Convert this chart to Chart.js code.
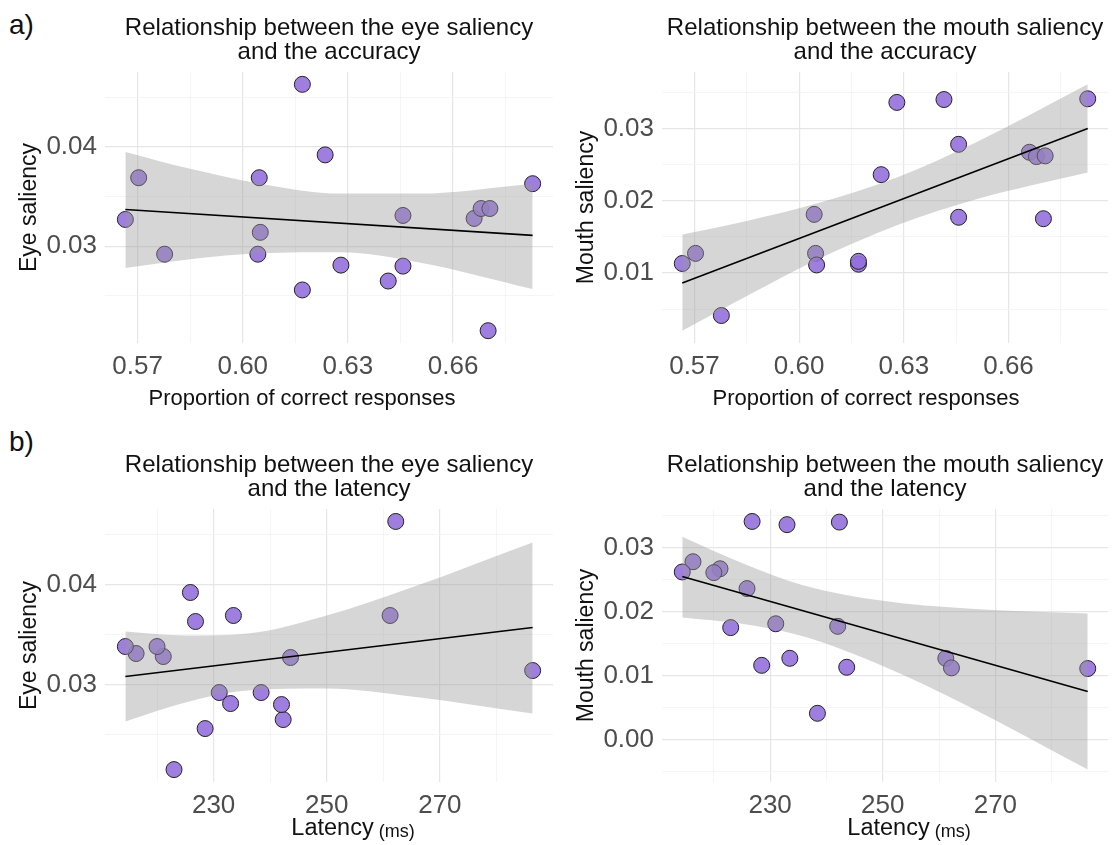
<!DOCTYPE html>
<html lang="en">
<head>
<meta charset="UTF-8" />
<title>Eye and mouth saliency vs accuracy and latency</title>
<script src="https://cdn.jsdelivr.net/npm/chart.js"></script>
<style>
  body { margin: 0; background: #fff; }
  #fig { position: relative; width: 1117px; height: 845px; overflow: hidden; font-family: "Liberation Sans", Arial, sans-serif; }
  #fig canvas { position: absolute; }
  .tag { position: absolute; left: 9px; font-size: 28px; line-height: 1; color: #111; }
</style>
</head>
<body>
<div id="fig">
  <div class="tag" style="top:11px">a)</div>
  <div class="tag" style="top:428px">b)</div>
  <canvas id="eyeAcc" width="562" height="420" style="left:0;top:0"></canvas>
  <canvas id="mouthAcc" width="560" height="420" style="left:557px;top:0"></canvas>
  <canvas id="eyeLat" width="562" height="408" style="left:0;top:437px"></canvas>
  <canvas id="mouthLat" width="560" height="408" style="left:557px;top:437px"></canvas>
</div>

<script>
  // one value per participant (n = 18)
  const accuracy = [0.5665, 0.5703, 0.5777, 0.6043, 0.6047, 0.6050, 0.6170, 0.6170, 0.6235,
                    0.6280, 0.6415, 0.6457, 0.6457, 0.6660, 0.6680, 0.6705, 0.6700, 0.6827];
  const latency = [243.6, 233.5, 238.4, 231.0, 261.2, 286.4, 262.2, 228.5, 225.9,
                   233.0, 242.3, 216.3, 242.0, 221.1, 220.0, 214.4, 223.0, 226.8];
  const eyeSaliency = [0.0327, 0.0369, 0.0292, 0.0292, 0.0369, 0.0314, 0.0463, 0.0256, 0.0392,
                       0.0281, 0.0265, 0.0331, 0.0280, 0.0328, 0.0338, 0.0338, 0.0215, 0.0363];
  const mouthSaliency = [0.0113, 0.0127, 0.0041, 0.0181, 0.0127, 0.0111, 0.0112, 0.0116, 0.0236,
                         0.0336, 0.0340, 0.0278, 0.0177, 0.0267, 0.0261, 0.0262, 0.0175, 0.0341];

  // linear fits (ends) and 95% bands, read at a few x positions
  const accFitX = [0.5665, 0.6827];
  const accBandX = [0.5665, 0.585, 0.605, 0.628, 0.65, 0.6827];
  const latFitX = [214.4, 286.4];
  const latBandX = [214.4, 225, 236, 250, 265, 286.4];

  const eyeAccFit = [0.0337, 0.0311];
  const eyeAccUpper = [0.0395, 0.0378, 0.0363, 0.0353, 0.0353, 0.0363];
  const eyeAccLower = [0.0278, 0.0287, 0.0293, 0.0294, 0.0284, 0.0257];

  const mouthAccFit = [0.0086, 0.0300];
  const mouthAccUpper = [0.0153, 0.0172, 0.0196, 0.0232, 0.0279, 0.0361];
  const mouthAccLower = [0.0020, 0.0068, 0.0118, 0.0166, 0.0201, 0.0239];

  const eyeLatFit = [0.0308, 0.0357];
  const eyeLatUpper = [0.0353, 0.0349, 0.0351, 0.0369, 0.0397, 0.0442];
  const eyeLatLower = [0.0263, 0.0282, 0.0294, 0.0296, 0.0288, 0.0271];

  const mouthLatFit = [0.0255, 0.0075];
  const mouthLatUpper = [0.0317, 0.0276, 0.0241, 0.0217, 0.0205, 0.0197];
  const mouthLatLower = [0.0191, 0.0181, 0.0161, 0.0115, 0.0053, -0.0047];

  // tick labels
  const accTicks = [0.57, 0.60, 0.63, 0.66];
  const latTicks = [230, 250, 270];
  const eyeTicks = [0.03, 0.04];
  const mouthAccTicks = [0.01, 0.02, 0.03];
  const mouthLatTicks = [0.00, 0.01, 0.02, 0.03];

  const FONT = '"Liberation Sans", Arial, sans-serif';

  // ggplot-style 5% expansion
  function expand(vals) {
    const lo = Math.min(...vals), hi = Math.max(...vals);
    const pad = (hi - lo) * 0.05;
    return [lo - pad, hi + pad];
  }

  // majors plus minor lines half way between them
  function gridValues(major, range) {
    const half = (major[1] - major[0]) / 2;
    const all = [];
    major.forEach(v => all.push(v - half, v));
    all.push(major[major.length - 1] + half);
    return all.filter(v => v >= range[0] && v <= range[1]);
  }

  const isMajor = (list, v) => list.some(t => Math.abs(t - v) < 1e-9);

  const pairs = (xs, ys) => xs.map((x, i) => ({x: x, y: ys[i]}));

  // draws the x axis title (with an optional smaller unit)
  const xTitlePlugin = {
    id: 'xTitle',
    afterDraw(chart, args, o) {
      const {ctx, chartArea} = chart;
      const cx = (chartArea.left + chartArea.right) / 2 + o.shift;
      ctx.save();
      ctx.fillStyle = '#111';
      ctx.textAlign = 'left';
      ctx.textBaseline = 'alphabetic';
      ctx.font = o.size + 'px ' + FONT;
      const w1 = ctx.measureText(o.text).width;
      let w2 = 0;
      if (o.unit) {
        ctx.font = o.unitSize + 'px ' + FONT;
        w2 = ctx.measureText(' ' + o.unit).width;
      }
      const x0 = cx - (w1 + w2) / 2;
      ctx.font = o.size + 'px ' + FONT;
      ctx.fillText(o.text, x0, o.baseline);
      if (o.unit) {
        ctx.font = o.unitSize + 'px ' + FONT;
        ctx.fillText(' ' + o.unit, x0 + w1, o.baseline + 2);
      }
      ctx.restore();
    }
  };

  function axis(ticks, range, fmt, extra) {
    return Object.assign({
      type: 'linear',
      min: range[0],
      max: range[1],
      afterBuildTicks: s => { s.ticks = gridValues(ticks, range).map(v => ({value: v})); },
      grid: {
        drawTicks: false,
        color: c => isMajor(ticks, c.tick.value) ? '#e6e6e6' : '#f3f3f3',
        lineWidth: c => isMajor(ticks, c.tick.value) ? 1.2 : 0.8
      },
      border: { display: false },
      ticks: {
        autoSkip: false,
        maxRotation: 0,
        padding: 8,
        color: '#4d4d4d',
        font: { family: FONT, size: 26 },
        callback: v => isMajor(ticks, v) ? fmt(v) : ''
      }
    }, extra);
  }

  function panel(id, p) {
    const xr = expand(p.x);
    const yr = expand(p.y.concat(p.upper, p.lower));
    new Chart(document.getElementById(id), {
      type: 'scatter',
      data: {
        datasets: [
          {
            data: pairs(p.x, p.y),
            backgroundColor: 'rgba(147,112,219,0.9)',
            borderColor: '#222',
            borderWidth: 1,
            pointRadius: 8,
            pointHoverRadius: 8,
            order: 3
          },
          {
            data: pairs(p.bandX, p.upper),
            showLine: true,
            fill: '+1',
            backgroundColor: 'rgba(153,153,153,0.4)',
            borderWidth: 0,
            pointRadius: 0,
            cubicInterpolationMode: 'monotone',
            order: 2
          },
          {
            data: pairs(p.bandX, p.lower),
            showLine: true,
            fill: false,
            borderWidth: 0,
            pointRadius: 0,
            cubicInterpolationMode: 'monotone',
            order: 2
          },
          {
            data: pairs(p.fitX, p.fit),
            showLine: true,
            borderColor: '#000',
            borderWidth: 1.6,
            pointRadius: 0,
            order: 1
          }
        ]
      },
      options: {
        responsive: false,
        animation: false,
        events: [],
        layout: { padding: { left: 0, right: p.padRight, top: 0, bottom: p.padBottom } },
        plugins: {
          legend: { display: false },
          tooltip: { enabled: false },
          title: {
            display: true,
            text: p.title,
            fullSize: false,
            color: '#111',
            font: { family: FONT, size: 24, weight: 'normal', lineHeight: 0.98 },
            padding: { top: 17, bottom: 8 }
          },
          xTitle: p.xTitle
        },
        scales: {
          x: axis(p.xTicks, xr, p.xFmt, { afterFit: s => { s.height = 40; } }),
          y: axis(p.yTicks, yr, v => v.toFixed(2), {
            afterFit: s => { s.width = 105; },
            title: {
              display: true,
              text: p.yTitle,
              color: '#111',
              font: { family: FONT, size: 23 },
              padding: { top: 16, bottom: 0 }
            }
          })
        }
      },
      plugins: [xTitlePlugin]
    });
  }

  const fmtAcc = v => v.toFixed(2);
  const fmtLat = v => v.toFixed(0);

  panel('eyeAcc', {
    x: accuracy, y: eyeSaliency, fitX: accFitX, fit: eyeAccFit,
    bandX: accBandX, upper: eyeAccUpper, lower: eyeAccLower,
    xTicks: accTicks, yTicks: eyeTicks, xFmt: fmtAcc,
    title: ['Relationship between the eye saliency', 'and the accuracy'],
    yTitle: 'Eye saliency',
    xTitle: { text: 'Proportion of correct responses', size: 22, baseline: 405, shift: -27 },
    padRight: 1, padBottom: 37
  });

  panel('mouthAcc', {
    x: accuracy, y: mouthSaliency, fitX: accFitX, fit: mouthAccFit,
    bandX: accBandX, upper: mouthAccUpper, lower: mouthAccLower,
    xTicks: accTicks, yTicks: mouthAccTicks, xFmt: fmtAcc,
    title: ['Relationship between the mouth saliency', 'and the accuracy'],
    yTitle: 'Mouth saliency',
    xTitle: { text: 'Proportion of correct responses', size: 22, baseline: 405, shift: -19 },
    padRight: 0, padBottom: 37
  });

  panel('eyeLat', {
    x: latency, y: eyeSaliency, fitX: latFitX, fit: eyeLatFit,
    bandX: latBandX, upper: eyeLatUpper, lower: eyeLatLower,
    xTicks: latTicks, yTicks: eyeTicks, xFmt: fmtLat,
    title: ['Relationship between the eye saliency', 'and the latency'],
    yTitle: 'Eye saliency',
    xTitle: { text: 'Latency', unit: '(ms)', size: 23.5, unitSize: 18, baseline: 398, shift: 24 },
    padRight: 1, padBottom: 23
  });

  panel('mouthLat', {
    x: latency, y: mouthSaliency, fitX: latFitX, fit: mouthLatFit,
    bandX: latBandX, upper: mouthLatUpper, lower: mouthLatLower,
    xTicks: latTicks, yTicks: mouthLatTicks, xFmt: fmtLat,
    title: ['Relationship between the mouth saliency', 'and the latency'],
    yTitle: 'Mouth saliency',
    xTitle: { text: 'Latency', unit: '(ms)', size: 23.5, unitSize: 18, baseline: 398, shift: 24 },
    padRight: 0, padBottom: 23
  });
</script>
</body>
</html>
